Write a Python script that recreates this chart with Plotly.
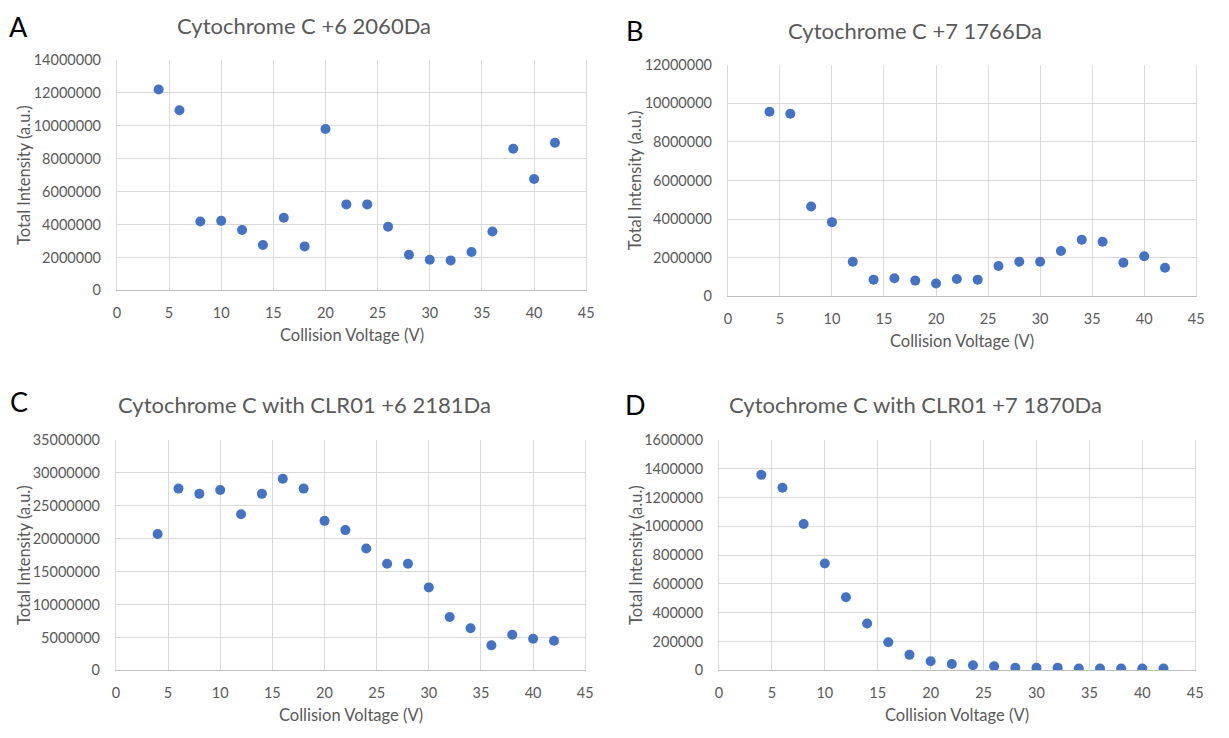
import plotly.graph_objects as go

W, H = 1229, 738

voltage = [4, 6, 8, 10, 12, 14, 16, 18, 20, 22, 24, 26, 28, 30, 32, 34, 36, 38, 40, 42]

cyt_p6 = [12200000, 10940000, 4180000, 4220000, 3670000, 2760000, 4410000, 2670000, 9800000, 5220000,
          5220000, 3860000, 2160000, 1860000, 1820000, 2330000, 3570000, 8600000, 6760000, 8960000]
cyt_p7 = [9560000, 9460000, 4650000, 3840000, 1790000, 860000, 930000, 810000, 660000, 890000,
          860000, 1570000, 1790000, 1790000, 2340000, 2930000, 2820000, 1740000, 2070000, 1480000]
clr_p6 = [20700000, 27600000, 26800000, 27400000, 23700000, 26800000, 29100000, 27600000, 22700000, 21300000,
          18500000, 16200000, 16200000, 12600000, 8100000, 6400000, 3800000, 5400000, 4800000, 4500000]
clr_p7 = [1357000, 1267000, 1016000, 742000, 508000, 326000, 196000, 108000, 63000, 45000,
          36000, 29000, 18000, 18000, 18000, 13000, 13000, 13000, 13000, 13000]

titles = ["Cytochrome C +6 2060Da", "Cytochrome C +7 1766Da",
          "Cytochrome C with CLR01 +6 2181Da", "Cytochrome C with CLR01 +7 1870Da"]
letters = ["A", "B", "C", "D"]
y_max = [14000000, 12000000, 35000000, 1600000]
y_step = [2000000, 2000000, 5000000, 200000]
x_title = "Collision Voltage (V)"
y_title = "Total Intensity (a.u.)"

# plot-area boxes in pixels: left, right, top, bottom
boxes = [(114, 588, 52, 288), (731, 1204, 57, 294), (113, 587, 441, 677), (722, 1203, 441, 677)]
title_pos = [(303, 17), (920, 22), (303, 405), (920, 405)]
letter_pos = [(15, 18), (637, 22), (15, 402), (638, 405)]
ytitle_x = [20, 638, 20, 638]

FONT = "Lato"
GRAY = "#595959"
GRID = "#D9D9D9"

def px(x):
    return x / W

def py(y):
    return 1 - y / H

fig = go.Figure()
series = [cyt_p6, cyt_p7, clr_p6, clr_p7]
annotations = []
for i, ys in enumerate(series):
    n = "" if i == 0 else str(i + 1)
    l, r, t, b = boxes[i]
    fig.add_trace(go.Scatter(x=voltage, y=ys, mode="markers",
                             marker=dict(color="#4472C4", size=10),
                             xaxis="x" + n, yaxis="y" + n, showlegend=False))
    fig.update_layout(**{
        "xaxis" + n: dict(domain=[px(l), px(r)], anchor="y" + n, range=[0, 45], dtick=5, tick0=0,
                          showgrid=True, gridcolor=GRID, gridwidth=1, zeroline=False,
                          showline=True, linecolor="#BFBFBF", linewidth=1, ticks="",
                          ticklabelstandoff=9,
                          tickfont=dict(family=FONT, size=14.5, color=GRAY)),
        "yaxis" + n: dict(domain=[py(b), py(t)], anchor="x" + n, range=[0, y_max[i]], dtick=y_step[i], tick0=0,
                          showgrid=True, gridcolor=GRID, gridwidth=1, zeroline=False,
                          showline=True, mirror=True, linecolor=GRID, linewidth=1, ticks="",
                          tickformat="d", ticklabelstandoff=12,
                          tickfont=dict(family=FONT, size=14.5, color=GRAY)),
    })
    annotations.append(dict(text=titles[i], x=px(title_pos[i][0]), y=py(title_pos[i][1]),
                            xref="paper", yref="paper", showarrow=False, xanchor="center", yanchor="middle",
                            font=dict(family=FONT, size=22, color=GRAY)))
    annotations.append(dict(text=letters[i], x=px(letter_pos[i][0]), y=py(letter_pos[i][1]),
                            xref="paper", yref="paper", showarrow=False, xanchor="center", yanchor="middle",
                            font=dict(family=FONT, size=27, color="#000000")))
    annotations.append(dict(text=x_title, x=px((l + r) / 2), y=py(b + 46),
                            xref="paper", yref="paper", showarrow=False, xanchor="center", yanchor="middle",
                            font=dict(family=FONT, size=16.5, color=GRAY)))
    annotations.append(dict(text=y_title, x=px(ytitle_x[i]), y=py((t + b) / 2), textangle=-90,
                            xref="paper", yref="paper", showarrow=False, xanchor="center", yanchor="middle",
                            font=dict(family=FONT, size=16.5, color=GRAY)))

fig.update_layout(width=W, height=H, margin=dict(l=0, r=0, t=0, b=0),
                  paper_bgcolor="white", plot_bgcolor="white", annotations=annotations)

fig.write_html("out.html")
